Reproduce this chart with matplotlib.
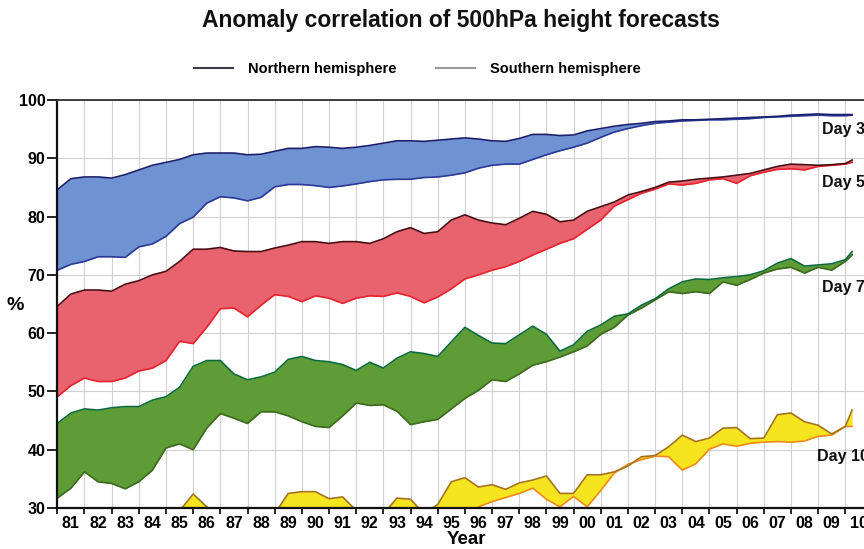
import numpy as np
import matplotlib
matplotlib.use("Agg")
import matplotlib.pyplot as plt
from matplotlib.lines import Line2D

plt.rcParams['font.family'] = ['Liberation Sans', 'DejaVu Sans']
plt.rcParams['font.weight'] = 'bold'

# ---------------- data ----------------
years = np.append(np.arange(1981.0, 2010.01, 0.5), 2010.25)

day3_nh = [84.6, 86.5, 86.8, 86.8, 86.6, 87.2, 88.0, 88.8, 89.3, 89.8, 90.6, 90.9, 90.9, 90.9, 90.6, 90.7,
           91.2, 91.7, 91.7, 92.0, 91.9, 91.7, 91.9, 92.2, 92.6, 93.0, 93.0, 92.9, 93.1, 93.3, 93.5, 93.3,
           93.0, 92.9, 93.4, 94.1, 94.1, 93.9, 94.0, 94.7, 95.1, 95.5, 95.8, 96.0, 96.3, 96.4, 96.6, 96.6,
           96.7, 96.8, 96.9, 97.0, 97.1, 97.2, 97.4, 97.5, 97.6, 97.5, 97.5, 97.5]
day3_sh = [70.8, 71.8, 72.3, 73.1, 73.1, 73.0, 74.8, 75.3, 76.6, 78.8, 79.9, 82.3, 83.4, 83.2, 82.7, 83.3,
           85.1, 85.5, 85.5, 85.3, 85.0, 85.25, 85.6, 86.0, 86.3, 86.4, 86.4, 86.7, 86.8, 87.1, 87.5, 88.3,
           88.8, 89.0, 89.0, 89.8, 90.6, 91.3, 91.9, 92.6, 93.6, 94.5, 95.1, 95.6, 96.0, 96.2, 96.4, 96.5,
           96.6, 96.6, 96.7, 96.8, 97.0, 97.1, 97.2, 97.3, 97.4, 97.3, 97.3, 97.4]

day5_nh = [64.6, 66.7, 67.4, 67.4, 67.2, 68.4, 69.0, 70.0, 70.6, 72.3, 74.4, 74.4, 74.7, 74.1, 74.0, 74.0,
           74.6, 75.1, 75.7, 75.7, 75.4, 75.7, 75.7, 75.4, 76.2, 77.4, 78.1, 77.1, 77.4, 79.4, 80.3, 79.4,
           78.9, 78.6, 79.7, 80.9, 80.4, 79.1, 79.4, 80.9, 81.7, 82.5, 83.7, 84.3, 85.0, 85.9, 86.1, 86.4,
           86.6, 86.8, 87.1, 87.4, 88.0, 88.6, 89.0, 88.9, 88.8, 88.9, 89.1, 89.7]
day5_sh = [49.1, 51.0, 52.3, 51.7, 51.7, 52.3, 53.5, 54.0, 55.3, 58.6, 58.2, 61.0, 64.2, 64.3, 62.8, 64.8,
           66.6, 66.3, 65.4, 66.4, 66.0, 65.1, 66.0, 66.4, 66.3, 66.9, 66.3, 65.2, 66.2, 67.6, 69.3, 70.0,
           70.8, 71.4, 72.3, 73.4, 74.4, 75.4, 76.2, 77.8, 79.4, 81.8, 82.9, 84.0, 84.7, 85.6, 85.4, 85.7,
           86.3, 86.5, 85.7, 87.0, 87.6, 88.1, 88.2, 88.0, 88.6, 88.8, 89.0, 89.3]

day7_nh = [44.5, 46.3, 47.0, 46.8, 47.2, 47.4, 47.4, 48.5, 49.1, 50.7, 54.3, 55.3, 55.3, 53.0, 52.0, 52.5,
           53.3, 55.5, 56.0, 55.3, 55.1, 54.6, 53.6, 55.0, 54.0, 55.7, 56.8, 56.5, 56.0, 58.5, 61.0, 59.6,
           58.3, 58.2, 59.7, 61.2, 59.8, 56.9, 58.0, 60.3, 61.4, 62.9, 63.3, 64.8, 65.9, 67.6, 68.8, 69.3,
           69.2, 69.5, 69.7, 70.0, 70.7, 72.0, 72.8, 71.5, 71.7, 71.9, 72.6, 74.0]
day7_sh = [31.7, 33.4, 36.2, 34.5, 34.2, 33.3, 34.5, 36.5, 40.3, 41.0, 40.0, 43.7, 46.2, 45.4, 44.5, 46.5,
           46.5, 45.8, 44.8, 44.0, 43.8, 45.8, 48.0, 47.6, 47.7, 46.6, 44.3, 44.8, 45.2, 47.0, 48.8, 50.2,
           52.0, 51.7, 53.0, 54.5, 55.1, 55.9, 56.8, 57.8, 59.8, 61.0, 63.1, 64.3, 65.7, 67.1, 66.8, 67.1,
           66.8, 68.8, 68.2, 69.2, 70.3, 71.0, 71.3, 70.3, 71.3, 70.8, 72.3, 73.4]

day10_nh = [26.5, 27.0, 27.5, 27.0, 27.5, 28.0, 28.5, 29.8, 29.0, 29.5, 32.4, 30.2, 28.5, 28.5, 30.1, 28.5,
            29.0, 32.5, 32.8, 32.8, 31.6, 31.9, 29.6, 28.5, 29.0, 31.7, 31.5, 29.0, 30.6, 34.5, 35.2, 33.6,
            34.0, 33.2, 34.3, 34.8, 35.5, 32.5, 32.5, 35.7, 35.7, 36.2, 37.2, 38.8, 39.0, 40.5, 42.5, 41.4,
            42.0, 43.7, 43.8, 41.9, 42.0, 46.0, 46.3, 44.8, 44.2, 42.7, 44.0, 46.8]
day10_sh = [24.0, 24.5, 25.0, 24.5, 25.0, 25.5, 25.5, 26.0, 26.5, 26.5, 27.0, 26.5, 26.0, 26.0, 26.5, 26.5,
            27.0, 27.0, 27.5, 27.5, 27.0, 27.0, 27.5, 27.0, 27.5, 27.5, 28.0, 28.0, 28.5, 28.5, 29.0, 30.2,
            31.1, 31.8, 32.5, 33.4, 31.5, 30.2, 32.0, 30.2, 33.0, 36.0, 37.5, 38.3, 38.9, 38.8, 36.5, 37.6,
            40.1, 41.0, 40.6, 41.1, 41.3, 41.4, 41.3, 41.5, 42.3, 42.5, 44.0, 44.0]

day_labels = ['Day 3', 'Day 5', 'Day 7', 'Day 10']
year_labels = ['81', '82', '83', '84', '85', '86', '87', '88', '89', '90', '91', '92', '93', '94', '95',
               '96', '97', '98', '99', '00', '01', '02', '03', '04', '05', '06', '07', '08', '09', '10']
y_ticks = [30, 40, 50, 60, 70, 80, 90, 100]

# ---------------- styles ----------------
bands = [
    (day3_nh, day3_sh, '#6f92d3', '#1b1f6b', '#2c3a98'),
    (day5_nh, day5_sh, '#e9636e', '#4a0c12', '#e8222e'),
    (day7_nh, day7_sh, '#5e9c35', '#0b6a3b', '#3d6a1f'),
    (day10_nh, day10_sh, '#f6e41f', '#a4731c', '#f08a1c'),
]

W, H = 864, 549
fig = plt.figure(figsize=(W / 100, H / 100), dpi=100)
left_px, top_px, bot_px = 57.3, 100, 508
ax = fig.add_axes([left_px / W, 1 - bot_px / H, 1 - left_px / W, (bot_px - top_px) / H])

for nh, sh, fc, nhc, shc in bands:
    ax.fill_between(years, nh, sh, color=fc, lw=0, zorder=2)
    ax.plot(years, sh, color=shc, lw=1.2, zorder=3)
    ax.plot(years, nh, color=nhc, lw=1.2, zorder=4)

ax.set_xlim(1981, 2010 + (W - 845.3) / 27.17)
ax.set_ylim(30, 100)

ax.set_xticks(np.arange(1981, 2011))
ax.set_xticklabels([])
ax.set_xticks(np.arange(1981.5, 2011, 1.0), minor=True)
ax.set_xticklabels(year_labels, minor=True)
ax.set_yticks(y_ticks)
ax.set_yticklabels([str(v) for v in y_ticks])

ax.tick_params(axis='x', which='major', length=4, width=1.2, direction='out', labelbottom=False)
ax.tick_params(axis='x', which='minor', length=0, pad=6, labelsize=11.5)
ax.tick_params(axis='y', which='major', length=7, width=1.2, pad=1.5, labelsize=11.5)

ax.grid(which='major', color='#d0d0d0', lw=0.8, zorder=0)
ax.set_axisbelow(True)

for s in ['left', 'bottom']:
    ax.spines[s].set_linewidth(1.6)
    ax.spines[s].set_color('#111111')
ax.spines['top'].set_linewidth(1.3)
ax.spines['top'].set_color('#333333')
ax.spines['right'].set_visible(False)
for s in ax.spines.values():
    s.set_zorder(6)

label_pos = [(2009.16, 95.0), (2009.16, 85.85), (2009.16, 67.8), (2008.97, 38.9)]
for txt, (xx, yy) in zip(day_labels, label_pos):
    ax.text(xx, yy, txt, ha='left', va='center', fontsize=11.5, fontweight='bold',
            color='#111111', zorder=7, clip_on=False)

fig.text(0.534, 1 - 20 / H, 'Anomaly correlation of 500hPa height forecasts',
         ha='center', va='center', fontsize=16.5, fontweight='bold', color='#111111')

handles = [Line2D([0], [0], color='#3a3a4a', lw=1.5), Line2D([0], [0], color='#9a9a9a', lw=1.5)]
fig.legend(handles, ['Northern hemisphere', 'Southern hemisphere'], loc='center',
           bbox_to_anchor=(0.483, 1 - 69 / H), ncol=2, frameon=False,
           prop={'size': 10.5, 'weight': 'bold'}, handlelength=2.7, handletextpad=1.0,
           columnspacing=2.7)

fig.text(15 / W, 1 - 305 / H, '%', ha='center', va='center', fontsize=14, fontweight='bold')
fig.text(466 / W, 1 - 539 / H, 'Year', ha='center', va='center', fontsize=13.5, fontweight='bold')

fig.savefig('out.png', dpi=100, facecolor='white')
